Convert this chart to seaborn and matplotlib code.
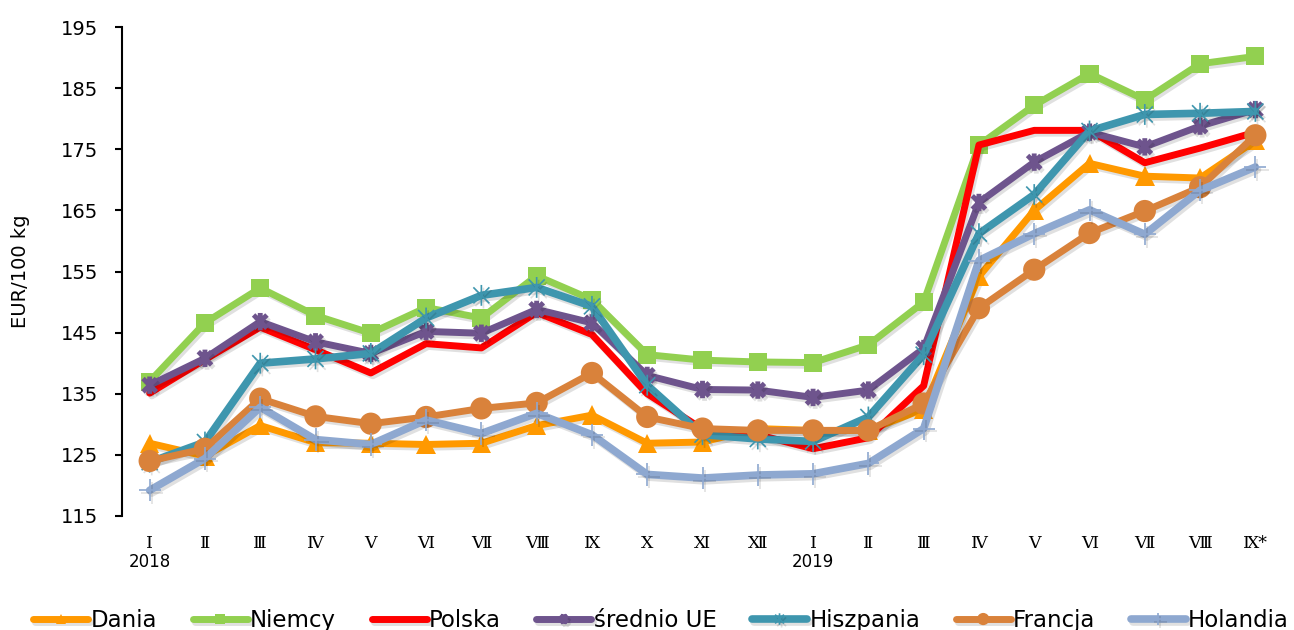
import numpy as np
import pandas as pd
import seaborn as sns
import matplotlib.pyplot as plt
import matplotlib.patheffects as pe
import matplotlib.transforms as mtransforms
from matplotlib.path import Path

months = ['Ⅰ', 'Ⅱ', 'Ⅲ', 'Ⅳ', 'Ⅴ', 'Ⅵ', 'Ⅶ', 'Ⅷ', 'Ⅸ', 'Ⅹ', 'Ⅺ', 'Ⅻ',
          'Ⅰ', 'Ⅱ', 'Ⅲ', 'Ⅳ', 'Ⅴ', 'Ⅵ', 'Ⅶ', 'Ⅷ', 'Ⅸ*']
years = {0: '2018', 12: '2019'}

dania = [126.9, 124.8, 129.8, 127.0, 126.9, 126.7, 126.9, 129.8, 131.5, 126.9, 127.1,
         129.3, 129.0, 129.0, 132.5, 154.2, 165.0, 172.7, 170.6, 170.3, 176.4]
niemcy = [137.0, 146.6, 152.3, 147.8, 144.9, 149.1, 147.4, 154.3, 150.4, 141.4, 140.5,
          140.2, 140.1, 143.0, 150.0, 175.7, 182.2, 187.4, 183.1, 189.0, 190.2]
polska = [135.1, 140.6, 145.9, 142.2, 138.4, 143.2, 142.5, 148.3, 144.7, 135.0, 129.2,
          128.3, 126.0, 127.8, 136.3, 175.7, 178.1, 178.1, 172.8, 175.2, 177.8]
srednio = [136.4, 140.8, 146.8, 143.5, 141.6, 145.2, 144.9, 148.8, 146.6, 138.0, 135.7,
           135.6, 134.4, 135.6, 142.4, 166.3, 172.9, 177.8, 175.4, 178.8, 181.5]
hiszpania = [123.8, 127.1, 140.0, 140.7, 141.6, 147.4, 151.1, 152.4, 149.3, 136.4, 128.3,
             127.6, 127.2, 131.2, 141.4, 161.2, 167.6, 178.0, 180.7, 180.9, 181.2]
francja = [124.0, 126.0, 134.2, 131.3, 130.1, 131.2, 132.6, 133.5, 138.4, 131.2, 129.3,
           129.0, 129.0, 129.0, 133.4, 149.0, 155.3, 161.3, 164.9, 168.8, 177.3]
holandia = [119.2, 124.4, 132.8, 127.5, 126.7, 130.7, 128.5, 131.8, 128.3, 121.8, 121.2,
            121.7, 121.9, 123.6, 129.3, 156.8, 161.2, 165.1, 161.1, 168.3, 172.1]

series = {
    'Dania': dania, 'Niemcy': niemcy, 'Polska': polska, 'średnio UE': srednio,
    'Hiszpania': hiszpania, 'Francja': francja, 'Holandia': holandia,
}

# excel style star: an x with a vertical bar
star = Path([(-1, -1), (1, 1), (-1, 1), (1, -1), (0, -1.3), (0, 1.3)],
            [Path.MOVETO, Path.LINETO, Path.MOVETO, Path.LINETO, Path.MOVETO, Path.LINETO])

styles = {
    'Dania':      dict(color='#FF9900', marker='^', ms=14, mew=0, lw=5),
    'Niemcy':     dict(color='#92D050', marker='s', ms=13, mew=0, lw=5),
    'Polska':     dict(color='#FF0000', marker=None, ms=0, mew=0, lw=5),
    'średnio UE': dict(color='#6E548D', marker=star, ms=12.5, mew=3.5, lw=5),
    'Hiszpania':  dict(color='#3E96AE', marker=star, ms=15, mew=1.2, lw=5.5),
    'Francja':    dict(color='#D9823B', marker='o', ms=16, mew=0, lw=5),
    'Holandia':   dict(color='#8EA8D0', marker='+', ms=16, mew=1.2, lw=5.5),
}

df = pd.DataFrame(series)
df['idx'] = np.arange(len(months))

sns.set_style('white')
plt.rcParams['font.family'] = ['DejaVu Sans', 'Noto Sans CJK SC']
plt.rcParams['text.color'] = 'black'
plt.rcParams['axes.labelcolor'] = 'black'
plt.rcParams['xtick.color'] = 'black'
plt.rcParams['ytick.color'] = 'black'

fig = plt.figure(figsize=(12.94, 6.30), dpi=100)
ax = fig.add_axes([0.0943, 0.181, 0.8972, 0.776])

shadow = [pe.SimpleLineShadow(offset=(1.5, -2), alpha=0.12, shadow_color='k'), pe.Normal()]

for name in series:
    st = styles[name]
    sns.lineplot(data=df, x='idx', y=name, ax=ax, color=st['color'], linewidth=st['lw'],
                 marker=st['marker'], markersize=st['ms'], markeredgewidth=st['mew'],
                 markeredgecolor=st['color'], label=name, legend=False,
                 path_effects=shadow)

ax.set_xlim(-0.5, len(months) - 0.5)
ax.set_ylim(115, 195)
ax.set_yticks(np.arange(115, 196, 10))
ax.set_xticks(np.arange(len(months)))
ax.set_xticklabels(months, fontsize=12.5, family=['DejaVu Serif', 'Noto Sans CJK SC'])
ax.tick_params(axis='x', length=0, pad=14)
ax.tick_params(axis='y', labelsize=14, length=5, width=1.5, direction='out', pad=12, left=True)
ax.set_xlabel('')
ax.set_ylabel('EUR/100 kg', fontsize=14, labelpad=22)

trans = mtransforms.blended_transform_factory(ax.transData, fig.transFigure)
for i, yr in years.items():
    ax.text(i, 1 - 562 / 630, yr, transform=trans, ha='center', va='center', fontsize=12)

for s in ['top', 'right', 'bottom']:
    ax.spines[s].set_visible(False)
ax.spines['left'].set_color('black')
ax.spines['left'].set_linewidth(1.5)

handles, labels = ax.get_legend_handles_labels()
fig.legend(handles, labels, loc='center', bbox_to_anchor=(0.511, 0.015), ncol=7,
           frameon=False, fontsize=16.5, handlelength=2.4, handletextpad=0.1,
           columnspacing=1.55, markerscale=0.55)

fig.savefig('out.png', dpi=100)
